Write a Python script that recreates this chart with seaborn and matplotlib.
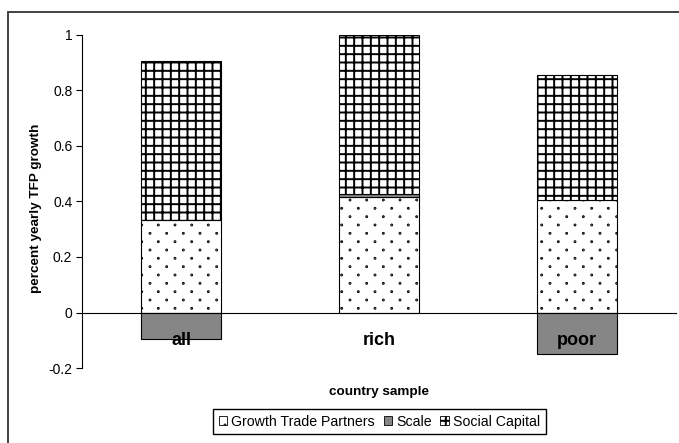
import numpy as np
import matplotlib
matplotlib.use("Agg")
import matplotlib.pyplot as plt
from matplotlib import hatch as mhatch
from matplotlib.path import Path
from matplotlib.patches import Rectangle, Patch
import seaborn as sns

# Decomposition of yearly TFP growth by country sample
samples = ["all", "rich", "poor"]
trade_partners = [0.335, 0.415, 0.405]
scale = [-0.095, 0.012, -0.15]
social_capital = [0.57, 0.573, 0.45]
series_names = ["Growth Trade Partners", "Scale", "Social Capital"]
y_ticks = [-0.2, 0, 0.2, 0.4, 0.6, 0.8, 1]
y_tick_labels = ["-0.2", "0", "0.2", "0.4", "0.6", "0.8", "1"]


class StaggeredDots(mhatch.HatchPatternBase):
    """Small filled dots in offset rows, rows twice as dense as columns."""

    def __init__(self, hatch, density):
        ncol = hatch.count(".") * density
        circle = Path.unit_circle()
        self._shape_v = circle.vertices
        self._shape_c = circle.codes
        centers = []
        if ncol:
            nrow = 2 * ncol
            for row in range(nrow + 1):
                y = row / nrow
                if row % 2 == 0:
                    xs = np.arange(ncol + 1) / ncol
                else:
                    xs = (np.arange(ncol) + 0.5) / ncol
                centers += [(x, y) for x in xs]
        self._centers = centers
        self.num_vertices = len(centers) * len(self._shape_v)

    def set_vertices_and_codes(self, vertices, codes):
        n = len(self._shape_v)
        for i, (x, y) in enumerate(self._centers):
            vertices[i * n:(i + 1) * n] = self._shape_v * 0.0045 + (x, y)
            codes[i * n:(i + 1) * n] = self._shape_c


mhatch._hatch_types = [StaggeredDots if t is mhatch.SmallFilledCircles else t
                       for t in mhatch._hatch_types]

sns.set_theme(style="white")
plt.rcParams["font.family"] = ["Liberation Sans", "DejaVu Sans"]
plt.rcParams["hatch.linewidth"] = 1.4
for key in ("text.color", "axes.labelcolor", "xtick.color", "ytick.color"):
    plt.rcParams[key] = "black"

fig = plt.figure(figsize=(6.79, 4.43), dpi=100)
ax = fig.add_axes([82 / 679, 1 - 368 / 443, (676 - 82) / 679, (368 - 35) / 443])

scale_bottom = [t if s > 0 else 0 for t, s in zip(trade_partners, scale)]
social_bottom = [t + max(s, 0) for t, s in zip(trade_partners, scale)]

layers = [
    (trade_partners, [0, 0, 0], "white", "."),
    (scale, scale_bottom, "#868686", None),
    (social_capital, social_bottom, "white", "++"),
]
for values, bottoms, face, hatch in layers:
    sns.barplot(x=samples, y=values, order=samples, bottom=bottoms,
                color=face, saturation=1, hatch=hatch, edgecolor="black",
                linewidth=0.8, width=0.4, errorbar=None, ax=ax)

ax.set_xlim(-0.5, 2.5)
ax.set_ylim(-0.2, 1.0)
ax.set_yticks(y_ticks)
ax.set_yticklabels(y_tick_labels)
ax.set_axisbelow(False)

for side in ("top", "right"):
    ax.spines[side].set_visible(False)
ax.spines["bottom"].set_position(("data", 0))
for side in ("left", "bottom"):
    ax.spines[side].set_color("black")
    ax.spines[side].set_linewidth(0.8)

ax.tick_params(axis="x", length=0, pad=14, labelsize=13, labelcolor="black")
for lbl in ax.get_xticklabels():
    lbl.set_fontweight("bold")
ax.tick_params(axis="y", left=True, direction="out", length=4, width=0.8,
               labelsize=10, pad=3, colors="black")

ax.set_ylabel("percent yearly TFP growth", fontsize=9.7, fontweight="bold",
              color="black")
ax.yaxis.set_label_coords(-0.068, 0.48)
ax.set_xlabel("country sample", fontsize=9.7, fontweight="bold", color="black")
ax.xaxis.set_label_coords(0.5, -0.055)

handles = [Patch(facecolor=f, edgecolor="black", hatch=h, linewidth=0.6)
           for (_, _, f, h) in layers]
fig.legend(handles, series_names, loc="upper left",
           bbox_to_anchor=(213 / 679, 1 - 409 / 443), ncol=3, fontsize=10.2,
           frameon=True, fancybox=False, edgecolor="black", framealpha=1,
           handlelength=0.6, handleheight=0.6, handletextpad=0.3,
           columnspacing=0.6, borderpad=0.4, borderaxespad=0,
           labelcolor="black")

fig.add_artist(Rectangle((8 / 679, -0.2), 1.2, 1.2 - 12 / 443,
                         transform=fig.transFigure, fill=False,
                         edgecolor="#333333", linewidth=1.3))

fig.savefig("out.png", dpi=100)
